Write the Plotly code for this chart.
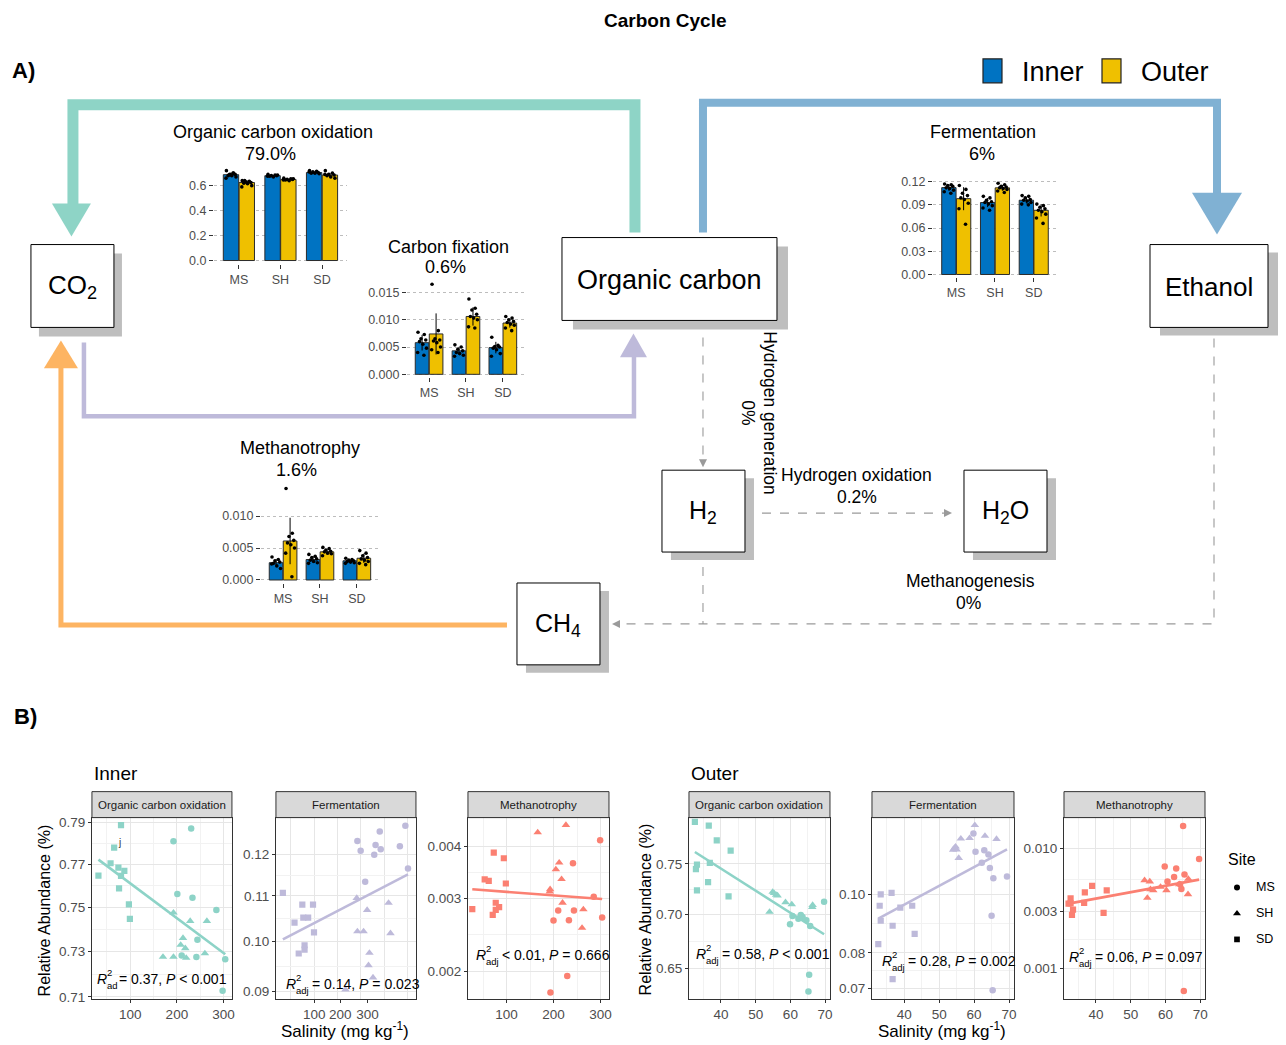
import numpy as np
import plotly.graph_objects as go

W, H = 1286, 1045
OFF = 8                      # browser body margin
FW, FH = W - OFF, H - OFF    # figure size
# small empirical screen calibration (screen = S * nominal + B)
SX, BX = 0.9976, 0.08
SY, BY = 0.9949, 1.1

# ===================== DATA =====================
SITES = ["MS", "SH", "SD"]
INNER_COLOR = "#0073C2"
OUTER_COLOR = "#EFC000"

# --- Panel A inset bar charts: mean relative abundance + per-sample points ---
oco_inner_mean = [0.688, 0.680, 0.705]
oco_outer_mean = [0.625, 0.650, 0.685]
oco_inner_pts = [[0.72, 0.70, 0.69, 0.69, 0.68, 0.68, 0.67, 0.66, 0.70, 0.685],
                 [0.69, 0.685, 0.68, 0.68, 0.675, 0.67, 0.685, 0.675],
                 [0.72, 0.715, 0.71, 0.705, 0.70, 0.70, 0.695, 0.71]]
oco_outer_pts = [[0.64, 0.635, 0.63, 0.625, 0.62, 0.615, 0.60, 0.59, 0.63, 0.64],
                 [0.66, 0.655, 0.65, 0.65, 0.645, 0.64, 0.655, 0.645],
                 [0.72, 0.70, 0.69, 0.685, 0.68, 0.67, 0.66, 0.69]]

cf_inner_mean = [0.0058, 0.0043, 0.0049]
cf_outer_mean = [0.0074, 0.0106, 0.0094]
cf_inner_pts = [[0.0077, 0.0073, 0.0065, 0.0063, 0.0060, 0.0055, 0.0048, 0.0040, 0.0035],
                [0.0054, 0.0050, 0.0046, 0.0043, 0.0040, 0.0038, 0.0035, 0.0033],
                [0.0068, 0.0053, 0.0051, 0.0050, 0.0048, 0.0045, 0.0038, 0.0033]]
cf_outer_pts = [[0.0165, 0.0080, 0.0065, 0.0063, 0.0061, 0.0058, 0.0050, 0.0045, 0.0040],
                [0.0138, 0.0121, 0.0118, 0.0110, 0.0106, 0.0103, 0.0100, 0.0087, 0.0085],
                [0.0106, 0.0103, 0.0100, 0.0097, 0.0095, 0.0092, 0.0090, 0.0085, 0.0080]]

fer_inner_mean = [0.1123, 0.093, 0.096]
fer_outer_mean = [0.098, 0.112, 0.083]
fer_inner_pts = [[0.117, 0.116, 0.115, 0.114, 0.112, 0.111, 0.109, 0.107, 0.105],
                 [0.101, 0.099, 0.096, 0.094, 0.093, 0.091, 0.089, 0.086, 0.083],
                 [0.102, 0.101, 0.099, 0.097, 0.096, 0.095, 0.093, 0.091, 0.090]]
fer_outer_pts = [[0.115, 0.110, 0.105, 0.102, 0.099, 0.097, 0.092, 0.085, 0.065],
                 [0.118, 0.116, 0.114, 0.113, 0.112, 0.111, 0.110, 0.108, 0.106],
                 [0.091, 0.089, 0.087, 0.085, 0.083, 0.081, 0.078, 0.073, 0.066]]

met_inner_mean = [0.0027, 0.0032, 0.0030]
met_outer_mean = [0.0061, 0.0044, 0.0034]
met_inner_pts = [[0.0036, 0.0032, 0.0030, 0.0028, 0.0026, 0.0022, 0.0018, 0.0025],
                 [0.0040, 0.0037, 0.0035, 0.0033, 0.0031, 0.0029, 0.0027, 0.0026],
                 [0.0034, 0.0032, 0.0031, 0.0030, 0.0029, 0.0028, 0.0027, 0.0026]]
met_outer_pts = [[0.0143, 0.0073, 0.0068, 0.0062, 0.0058, 0.0055, 0.0050, 0.0042, 0.0005],
                 [0.0051, 0.0049, 0.0047, 0.0045, 0.0044, 0.0042, 0.0041, 0.0038],
                 [0.0046, 0.0042, 0.0038, 0.0035, 0.0033, 0.0031, 0.0029, 0.0026, 0.0024]]

# --- Panel B: salinity vs relative abundance ---
# Inner, organic carbon oxidation
in_oco_MS_x = [192.7, 230.6, 201, 233.4, 284.6, 244, 210.3, 241.8, 303.6, 298]
in_oco_MS_y = [0.7811, 0.7872, 0.7562, 0.7545, 0.7488, 0.7353, 0.7283, 0.7276, 0.7266, 0.7127]
in_oco_SH_x = [192.7, 228.5, 264.3, 213.1, 208.1, 218, 170.2, 192.7, 220, 260]
in_oco_SH_y = [0.7476, 0.7438, 0.7438, 0.7361, 0.733, 0.7315, 0.7276, 0.7276, 0.7272, 0.7292]
in_oco_SD_x = [31.9, 80.3, 65.6, 57.9, 74.7, 87.4, 80.3, 76.1, 97.2, 99.3]
in_oco_SD_y = [0.7648, 0.7888, 0.778, 0.7706, 0.7685, 0.767, 0.7647, 0.7588, 0.7514, 0.7448]
# Inner, fermentation
in_fer_MS_x = [192.5, 199.5, 240.4, 231.4, 228.6, 242.5, 209.2, 283.5, 295.3, 300.9]
in_fer_MS_y = [0.1234, 0.1209, 0.1259, 0.1224, 0.1199, 0.1213, 0.1133, 0.1221, 0.1274, 0.1165]
in_fer_SH_x = [191.1, 213.4, 259.3, 192.5, 205.7, 263.4, 218.3, 216.3, 226, 167]
in_fer_SH_y = [0.1095, 0.1068, 0.1084, 0.1021, 0.1021, 0.1017, 0.0976, 0.0951, 0.0927, 0.0904]
in_fer_SD_x = [32.8, 57.8, 74.5, 97.4, 76.6, 87, 99.5, 66.8, 79.3, 79.3]
in_fer_SD_y = [0.1107, 0.1040, 0.1080, 0.1080, 0.1051, 0.1051, 0.1019, 0.0975, 0.0992, 0.0983]
# Inner, methanotrophy
in_met_MS_x = [299.2, 241.4, 285.6, 210, 243.5, 200, 232.8, 303.5, 229.2, 193.5]
in_met_MS_y = [0.004145, 0.003642, 0.003026, 0.002802, 0.002802, 0.002650, 0.002655, 0.002695, 0.001944, 0.001774]
in_met_SH_x = [166.4, 226.4, 212.1, 205, 217.1, 192.8, 192.1, 219.2, 263.5, 260.7]
in_met_SH_y = [0.004327, 0.004509, 0.003656, 0.003520, 0.003336, 0.003153, 0.003112, 0.002925, 0.002818, 0.002542]
in_met_SD_x = [27.2, 72.9, 94.3, 53.6, 62.2, 98.6, 77.1, 84.3, 77.1, 70.7]
in_met_SD_y = [0.002823, 0.003868, 0.003747, 0.003330, 0.003305, 0.003256, 0.002925, 0.002854, 0.002812, 0.002735]
# Outer, organic carbon oxidation
out_oco_MS_x = [69.7, 63, 60.6, 64.6, 59.9, 65.7, 62.3, 65.4, 65.2, 63.5]
out_oco_MS_y = [0.7122, 0.6995, 0.6985, 0.6944, 0.6906, 0.6891, 0.6960, 0.6447, 0.6301, 0.6975]
out_oco_SH_x = [54.9, 55.9, 56.3, 58.6, 60.4, 66.4, 66.3, 54, 55.3, 62.8]
out_oco_SH_y = [0.7219, 0.7189, 0.7183, 0.7117, 0.7097, 0.7091, 0.7071, 0.7024, 0.7206, 0.6985]
out_oco_SD_x = [32.5, 36.5, 38.8, 42.8, 33.1, 32.8, 36.8, 36.3, 33.1, 42.2]
out_oco_SD_y = [0.7943, 0.7902, 0.7745, 0.7638, 0.7493, 0.7448, 0.7510, 0.7316, 0.7235, 0.7176]
# Outer, fermentation
out_fer_MS_x = [59.8, 60.4, 62.9, 64.1, 62.2, 64.5, 65.5, 69.4, 65, 65.3]
out_fer_MS_y = [0.1259, 0.1175, 0.1182, 0.1163, 0.1127, 0.1105, 0.1062, 0.1070, 0.0921, 0.0694]
out_fer_SH_x = [60.2, 56.2, 58.7, 63.1, 66.4, 54.7, 54, 55, 55.6, 54.4]
out_fer_SH_y = [0.1300, 0.1235, 0.1237, 0.1248, 0.1233, 0.1198, 0.1184, 0.1185, 0.1147, 0.1192]
out_fer_SD_x = [33.3, 36.4, 33, 33.3, 38.9, 42.3, 36.7, 43, 32.6, 36.7]
out_fer_SD_y = [0.0999, 0.1005, 0.0957, 0.0904, 0.0950, 0.0957, 0.0887, 0.0860, 0.0827, 0.0724]
# Outer, methanotrophy
out_met_MS_x = [65.1, 69.7, 59.8, 63.1, 65.5, 62.5, 60.6, 64.2, 64.6, 65.3]
out_met_MS_y = [0.01545, 0.008201, 0.007079, 0.006813, 0.006072, 0.005806, 0.005309, 0.005044, 0.004611, 0.000651]
out_met_SH_x = [54, 55.5, 56.5, 54.8, 60.3, 55.7, 58.6, 66.6, 66.5, 64]
out_met_SH_y = [0.005446, 0.005309, 0.004495, 0.003880, 0.004495, 0.004582, 0.004793, 0.005588, 0.004164, 0.005044]
out_met_SD_x = [32.7, 32.7, 32.1, 33.4, 33.1, 36.8, 38.9, 36.6, 43.1, 42.2]
out_met_SD_y = [0.003855, 0.003502, 0.003480, 0.003102, 0.002802, 0.004325, 0.004886, 0.003524, 0.004495, 0.002910]

# point jitter (fraction of category width) used for the inset dots
JITTER = [-0.11, 0.06, -0.03, 0.10, -0.07, 0.02, 0.12, -0.12, 0.05, -0.05]

# ===================== FIGURE =====================
FONT = "Liberation Sans, Arial, sans-serif"
TICKC = "#4d4d4d"
fig = go.Figure()
layout = dict(width=FW, height=FH, margin=dict(l=0, r=0, t=0, b=0, pad=0),
              paper_bgcolor="white", plot_bgcolor="rgba(0,0,0,0)",
              showlegend=False, barmode="overlay", font=dict(family=FONT, color="black"))
shapes, annos = [], []
OV = "11"  # overlay axis in screen-pixel coordinates


def fx_(p):
    return ((p - BX) / SX - OFF) / FW


def fy_(p):
    return 1 - ((p - BY) / SY - OFF) / FH


def ax_names(n):
    s = "" if n == 1 else str(n)
    return "xaxis" + s, "yaxis" + s, "x" + s, "y" + s


def add_axes(n, xpx, ypx, xcfg, ycfg):
    xa, ya, xr, yr = ax_names(n)
    layout[xa] = dict(domain=[fx_(xpx[0]), fx_(xpx[1])], anchor=yr, **xcfg)
    layout[ya] = dict(domain=[fy_(ypx[1]), fy_(ypx[0])], anchor=xr, **ycfg)
    return xr, yr


def text(x, y, s, size=14, xanchor="center", yanchor="middle", angle=0, color="black", **kw):
    annos.append(dict(x=x, y=y, xref="x" + OV, yref="y" + OV, text=s, showarrow=False,
                      xanchor=xanchor, yanchor=yanchor, textangle=angle,
                      font=dict(size=size, color=color, family=FONT), **kw))


def rect(x0, y0, x1, y1, fill, line="black", lw=1):
    shapes.append(dict(type="rect", xref="x" + OV, yref="y" + OV, x0=x0, y0=y0, x1=x1, y1=y1,
                       fillcolor=fill, line=dict(color=line, width=lw), layer="above"))


def path(d, color, lw=0, fill=None, dash="solid"):
    sh = dict(type="path", xref="x" + OV, yref="y" + OV, path=d, layer="above",
              line=dict(color=color, width=lw, dash=dash))
    sh["fillcolor"] = fill if fill else "rgba(0,0,0,0)"
    if lw == 0:
        sh["line"] = dict(width=0)
    shapes.append(sh)


# ---------------- inset bar charts ----------------
def bar_inset(n, xpx, ypx, yrange, ytv, ytt, inner_mean, outer_mean, inner_pts, outer_pts):
    xcfg = dict(range=[-0.6, 2.6], tickvals=[0, 1, 2], ticktext=SITES, showgrid=False,
                zeroline=False, showline=False, ticks="outside", ticklen=4, tickcolor="#333",
                tickfont=dict(size=12.5, color=TICKC), fixedrange=True)
    ycfg = dict(range=yrange, tickvals=ytv, ticktext=ytt, showgrid=True, gridcolor="#bdbdbd",
                griddash="dot", gridwidth=1, zeroline=False, showline=False, ticks="outside",
                ticklen=4, tickcolor="#333", tickfont=dict(size=12.5, color=TICKC), fixedrange=True)
    xr, yr = add_axes(n, xpx, ypx, xcfg, ycfg)
    cats = np.arange(len(SITES))
    for off, mean, pts, col in [(-0.19, inner_mean, inner_pts, INNER_COLOR),
                                (0.19, outer_mean, outer_pts, OUTER_COLOR)]:
        sd = [float(np.std(p, ddof=1)) for p in pts]
        fig.add_trace(go.Bar(x=cats + off, y=mean, width=0.37, xaxis=xr, yaxis=yr,
                             marker=dict(color=col, line=dict(color="#2b2b2b", width=1)),
                             error_y=dict(type="data", array=sd, color="black", thickness=1, width=0)))
        dx, dy = [], []
        for i, p in enumerate(pts):
            for j, v in enumerate(p):
                dx.append(i + off + JITTER[j % len(JITTER)])
                dy.append(v)
        fig.add_trace(go.Scatter(x=dx, y=dy, mode="markers", xaxis=xr, yaxis=yr,
                                 marker=dict(color="black", size=3.6)))


bar_inset(1, (214, 347), (165, 263), [-0.024, 0.76], [0, 0.2, 0.4, 0.6],
          ["0.0", "0.2", "0.4", "0.6"], oco_inner_mean, oco_outer_mean, oco_inner_pts, oco_outer_pts)
bar_inset(2, (407, 525), (278, 377), [-0.00055, 0.01756], [0, 0.005, 0.010, 0.015],
          ["0.000", "0.005", "0.010", "0.015"], cf_inner_mean, cf_outer_mean, cf_inner_pts, cf_outer_pts)
bar_inset(3, (933, 1057), (170, 277), [-0.0039, 0.1342], [0, 0.03, 0.06, 0.09, 0.12],
          ["0.00", "0.03", "0.06", "0.09", "0.12"], fer_inner_mean, fer_outer_mean, fer_inner_pts, fer_outer_pts)
bar_inset(4, (261, 379), (482, 583), [-0.00047, 0.0153], [0, 0.005, 0.010],
          ["0.000", "0.005", "0.010"], met_inner_mean, met_outer_mean, met_inner_pts, met_outer_pts)

# ---------------- scatter panels ----------------
SYMBOLS = {"MS": ("circle", 6.5), "SH": ("triangle-up", 7.5), "SD": ("square", 6.2)}
PLOT_Y = (818, 1000)
STRIP_Y = (792, 818)


def geo_mid(vals):
    return [float(np.sqrt(a * b)) for a, b in zip(vals[:-1], vals[1:])]


def scatter_panel(n, xpx, xrange_, xtv, xtt, xminor, ylog, ytv, ytt, color, site_data,
                  strip, xmajor_grid=True):
    gridc, minorc = "#e6e6e6", "#f2f2f2"
    xcfg = dict(range=xrange_, tickvals=xtv, ticktext=xtt, showgrid=xmajor_grid, gridcolor=gridc,
                gridwidth=1.3, minor=dict(tickmode="array", tickvals=xminor, showgrid=True,
                                          gridcolor=minorc if xmajor_grid else gridc,
                                          gridwidth=0.7 if xmajor_grid else 1.3, ticks=""),
                zeroline=False, showline=True, mirror=True, linecolor="#333", linewidth=1,
                ticks="outside", ticklen=3, tickcolor="#333",
                tickfont=dict(size=13.5, color=TICKC), fixedrange=True)
    ycfg = dict(type="log", range=ylog, tickvals=ytv, ticktext=ytt, showgrid=True, gridcolor=gridc,
                gridwidth=1.3, minor=dict(tickmode="array", tickvals=geo_mid(ytv), showgrid=True,
                                          gridcolor=minorc, gridwidth=0.7, ticks=""),
                zeroline=False, showline=True, mirror=True, linecolor="#333", linewidth=1,
                ticks="outside", ticklen=3, tickcolor="#333",
                tickfont=dict(size=13.5, color=TICKC), fixedrange=True)
    xr, yr = add_axes(n, xpx, PLOT_Y, xcfg, ycfg)
    allx, ally = [], []
    for site, xs, ys in site_data:
        sym, sz = SYMBOLS[site]
        fig.add_trace(go.Scatter(x=xs, y=ys, mode="markers", xaxis=xr, yaxis=yr,
                                 marker=dict(symbol=sym, size=sz, color=color, line=dict(width=0))))
        allx += list(xs)
        ally += list(ys)
    allx, ally = np.array(allx), np.array(ally)
    b, a = np.polyfit(allx, np.log10(ally), 1)
    fitx = np.array([allx.min(), allx.max()])
    fig.add_trace(go.Scatter(x=fitx, y=10 ** (a + b * fitx), mode="lines", xaxis=xr, yaxis=yr,
                             line=dict(color=color, width=2.6)))
    rect(xpx[0], STRIP_Y[0], xpx[1], STRIP_Y[1], "#d9d9d9", "#333", 1)
    text((xpx[0] + xpx[1]) / 2, (STRIP_Y[0] + STRIP_Y[1]) / 2 + 0.5, strip, size=11.5, color="#1a1a1a")


TEAL, PURPLE, SALMON = "#8DD3C7", "#BEBADA", "#FB8072"
IN_RANGE = [18, 318]
OUT_RANGE = [30.8, 71.4]
IN_TV, IN_TT, IN_MINOR = [100, 200, 300], ["100", "200", "300"], [50, 150, 250]
OUT_TV, OUT_TT, OUT_MINOR = [40, 50, 60, 70], ["40", "50", "60", "70"], [35, 45, 55, 65]

scatter_panel(5, (92, 232), IN_RANGE, IN_TV, IN_TT, IN_MINOR, [-0.14936, -0.10103],
              [0.71, 0.73, 0.75, 0.77, 0.79], ["0.71", "0.73", "0.75", "0.77", "0.79"], TEAL,
              [("MS", in_oco_MS_x, in_oco_MS_y), ("SH", in_oco_SH_x, in_oco_SH_y),
               ("SD", in_oco_SD_x, in_oco_SD_y)], "Organic carbon oxidation")
scatter_panel(6, (276, 416), IN_RANGE, [100, 156, 214], IN_TT, [50, 100, 150, 200, 250, 300],
              [-1.05270, -0.88732], [0.09, 0.10, 0.11, 0.12], ["0.09", "0.10", "0.11", "0.12"], PURPLE,
              [("MS", in_fer_MS_x, in_fer_MS_y), ("SH", in_fer_SH_x, in_fer_SH_y),
               ("SD", in_fer_SD_x, in_fer_SD_y)], "Fermentation", xmajor_grid=False)
scatter_panel(7, (468, 609), IN_RANGE, IN_TV, IN_TT, IN_MINOR, [-2.76735, -2.32797],
              [0.002, 0.003, 0.004], ["0.002", "0.003", "0.004"], SALMON,
              [("MS", in_met_MS_x, in_met_MS_y), ("SH", in_met_SH_x, in_met_SH_y),
               ("SD", in_met_SD_x, in_met_SD_y)], "Methanotrophy")
scatter_panel(8, (689, 830), OUT_RANGE, OUT_TV, OUT_TT, OUT_MINOR, [-0.20522, -0.09745],
              [0.65, 0.70, 0.75], ["0.65", "0.70", "0.75"], TEAL,
              [("MS", out_oco_MS_x, out_oco_MS_y), ("SH", out_oco_SH_x, out_oco_SH_y),
               ("SD", out_oco_SD_x, out_oco_SD_y)], "Organic carbon oxidation")
scatter_panel(9, (872, 1014), OUT_RANGE, OUT_TV, OUT_TT, OUT_MINOR, [-1.17351, -0.87356],
              [0.07, 0.08, 0.10], ["0.07", "0.08", "0.10"], PURPLE,
              [("MS", out_fer_MS_x, out_fer_MS_y), ("SH", out_fer_SH_x, out_fer_SH_y),
               ("SD", out_fer_SD_x, out_fer_SD_y)], "Fermentation")
scatter_panel(10, (1064, 1205), OUT_RANGE, OUT_TV, OUT_TT, OUT_MINOR, [-3.25556, -1.74167],
              [0.001, 0.003, 0.010], ["0.001", "0.003", "0.010"], SALMON,
              [("MS", out_met_MS_x, out_met_MS_y), ("SH", out_met_SH_x, out_met_SH_y),
               ("SD", out_met_SD_x, out_met_SD_y)], "Methanotrophy")

# overlay axis in screen pixels
layout["xaxis" + OV] = dict(domain=[0, 1], range=[SX * OFF + BX, SX * (OFF + FW) + BX],
                            visible=False, fixedrange=True, anchor="y" + OV)
layout["yaxis" + OV] = dict(domain=[0, 1], range=[SY * (OFF + FH) + BY, SY * OFF + BY],
                            visible=False, fixedrange=True, anchor="x" + OV)

# Site legend markers
LEG_SITES = ["MS", "SH", "SD"]
LEG_Y = [888, 914, 940]
for s, yy in zip(LEG_SITES, LEG_Y):
    sym, sz = SYMBOLS[s]
    fig.add_trace(go.Scatter(x=[1237], y=[yy], mode="markers", xaxis="x" + OV, yaxis="y" + OV,
                             marker=dict(symbol=sym, size=sz - 0.5, color="black")))
    text(1254, yy, s, size=12.5, xanchor="left")
text(1226, 860, "Site", size=16, xanchor="left")

# ---------------- R^2 labels ----------------
R2 = [(95, 117, 980, "ad", "= 0.37, <i>P</i> &lt; 0.001"),
      (284, 310, 985, "adj", "= 0.14, <i>P</i> = 0.023"),
      (474, 500, 956, "adj", "&lt; 0.01, <i>P</i> = 0.666"),
      (694, 720, 955, "adj", "= 0.58, <i>P</i> &lt; 0.001"),
      (880, 906, 962, "adj", "= 0.28, <i>P</i> = 0.002"),
      (1067, 1093, 958, "adj", "= 0.06, <i>P</i> = 0.097")]
for xl, xr_, yc, sub, rest in R2:
    text(xl, yc, "<i>R</i>", size=14, xanchor="left")
    text(xl + 10, yc - 7, "2", size=9.5, xanchor="left")
    text(xl + 10, yc + 6, sub, size=9.5, xanchor="left")
    text(xr_, yc, rest, size=14, xanchor="left")
text(120, 843, "j", size=10, color="#333")

# axis titles, panel labels
text(45, 911, "Relative Abundance (%)", size=16, angle=-90)
text(645, 910, "Relative Abundance (%)", size=16, angle=-90)
text(345, 1031, "Salinity (mg kg<sup>-1</sup>)", size=17)
text(942, 1031, "Salinity (mg kg<sup>-1</sup>)", size=17)
text(92, 774, "Inner", size=19, xanchor="left")
text(689, 774, "Outer", size=19, xanchor="left")

# ---------------- Panel A diagram ----------------
text(665, 20, "<b>Carbon Cycle</b>", size=19)
text(24, 70, "<b>A)</b>", size=22)
text(26, 717, "<b>B)</b>", size=22)

# Inner/Outer legend
rect(983, 58, 1002, 82, INNER_COLOR, "#222", 1.2)
text(1020, 71, "Inner", size=27, xanchor="left")
rect(1102, 58, 1121, 82, OUTER_COLOR, "#222", 1.2)
text(1139, 71, "Outer", size=27, xanchor="left")

# coloured flux arrows
C_TEAL, C_BLUE, C_PURP, C_ORAN = "#8ED4C6", "#80B1D3", "#BEBADA", "#FDB462"
path("M 635,232 L 635,104 L 73,104 L 73,204", C_TEAL, lw=11)
path("M 52,203 L 91,203 L 71.5,236 Z", C_TEAL, fill=C_TEAL)
path("M 703,232 L 703,102 L 1217,102 L 1217,193", C_BLUE, lw=8)
path("M 1192,192 L 1242,192 L 1217,234 Z", C_BLUE, fill=C_BLUE)
path("M 84,342 L 84,416 L 634,416 L 634,356", C_PURP, lw=4.5)
path("M 620,357 L 647,357 L 633.5,333 Z", C_PURP, fill=C_PURP)
path("M 507,625 L 61,625 L 61,366", C_ORAN, lw=5)
path("M 44,368 L 78,368 L 61,340 Z", C_ORAN, fill=C_ORAN)

# dashed grey links
G = "#9a9a9a"
path("M 703,337 L 703,460", G, lw=1.1, dash="dash")
path("M 699,459 L 707,459 L 703,467 Z", G, fill=G)
path("M 762,513 L 944,513", G, lw=1.1, dash="dash")
path("M 944,509 L 944,517 L 952,513 Z", G, fill=G)
path("M 703,567 L 703,624", G, lw=1.1, dash="dash")
path("M 1214,338 L 1214,624 L 620,624", G, lw=1.1, dash="dash")
path("M 620,620 L 620,628 L 612,624 Z", G, fill=G)

# compartments (box + drop shadow)
BOXES = [((31, 244, 114, 327), (8, 9), "CO<sub>2</sub>", 26),
         ((562, 237, 777, 320), (11, 9), "Organic carbon", 27),
         ((1150, 244, 1268, 327), (10, 8), "Ethanol", 26),
         ((662, 470, 745, 552), (9, 8), "H<sub>2</sub>", 25),
         ((964, 470, 1047, 552), (9, 8), "H<sub>2</sub>O", 25),
         ((517, 583, 600, 665), (9, 8), "CH<sub>4</sub>", 25)]
for (x0, y0, x1, y1), (dx, dy), lab, fs in BOXES:
    rect(x0 + dx, y0 + dy, x1 + dx, y1 + dy, "#bebebe", "#bebebe", 0)
    rect(x0, y0, x1, y1, "white", "black", 1)
    text((x0 + x1) / 2, (y0 + y1) / 2 + 1, lab, size=fs)

# process labels
text(273, 131, "Organic carbon oxidation", size=18)
text(271, 153, "79.0%", size=18)
text(449, 246, "Carbon fixation", size=18)
text(446, 266, "0.6%", size=18)
text(983, 131, "Fermentation", size=18)
text(982, 153, "6%", size=18)
text(300, 448, "Methanotrophy", size=18)
text(297, 470, "1.6%", size=18)
text(857, 475, "Hydrogen oxidation", size=17.5)
text(857, 497, "0.2%", size=17.5)
text(971, 581, "Methanogenesis", size=17.5)
text(969, 603, "0%", size=17.5)
text(770, 413, "Hydrogen generation", size=17.5, angle=90)
text(748, 413, "0%", size=17.5, angle=90)

layout["shapes"] = shapes
layout["annotations"] = annos
fig.update_layout(**layout)
fig.write_html("out.html")
